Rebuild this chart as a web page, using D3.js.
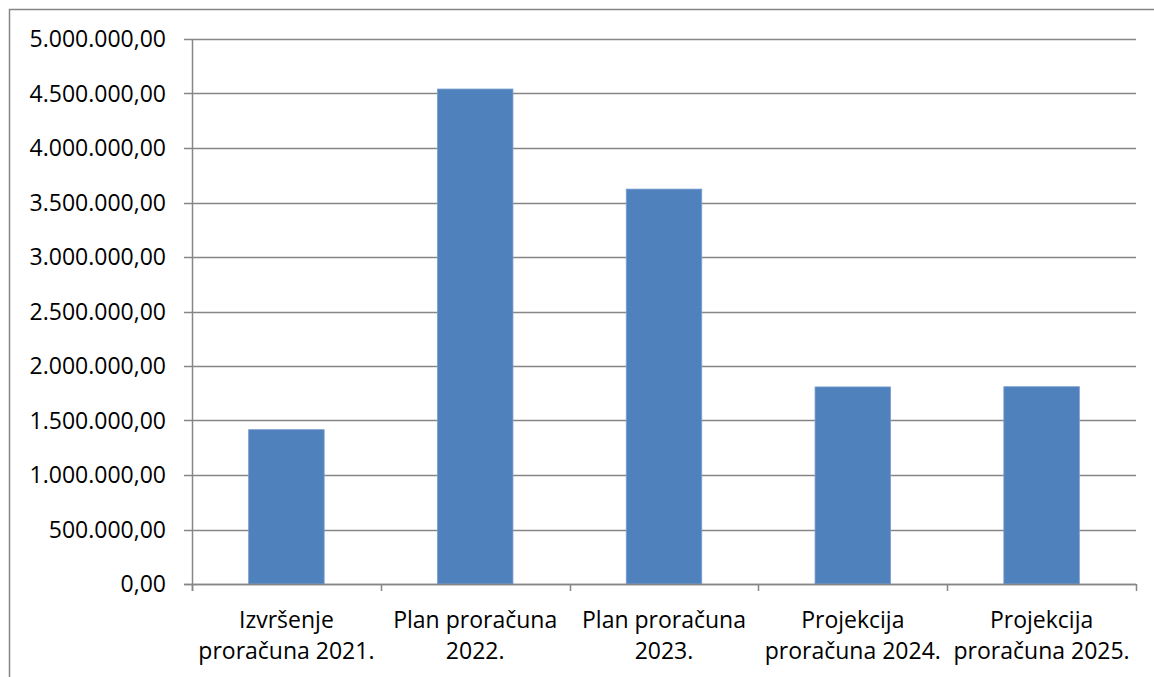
<!DOCTYPE html>
<html>
<head>
<meta charset="utf-8">
<script src="https://cdn.jsdelivr.net/npm/d3@7"></script>
<style>
  html, body { margin: 0; padding: 0; background: #fff; }
  svg { display: block; }
  text { font-family: "Open Sans", sans-serif; fill: #000; }
</style>
</head>
<body>
<svg id="chart" width="1154" height="677"></svg>
<script>
const categories = [
  ["Izvršenje", "proračuna 2021."],
  ["Plan proračuna", "2022."],
  ["Plan proračuna", "2023."],
  ["Projekcija", "proračuna 2024."],
  ["Projekcija", "proračuna 2025."]
];
const values = [1416000, 4541000, 3623000, 1808000, 1810000];
const yTicks = [0, 500000, 1000000, 1500000, 2000000, 2500000, 3000000, 3500000, 4000000, 4500000, 5000000];

const W = 1154, H = 677;
const margin = { left: 192, right: 18, top: 39, bottom: 93 };
const svg = d3.select("#chart");
const axisColor = "#868686";
const fontSize = 23;

// outer frame (cropped on right and bottom)
svg.append("rect")
  .attr("x", 9.5).attr("y", 9.5)
  .attr("width", W + 20).attr("height", H + 20)
  .attr("fill", "none").attr("stroke", axisColor).attr("stroke-width", 1.5);

const x = d3.scaleBand()
  .domain(categories.map((d, i) => i))
  .range([margin.left, W - margin.right])
  .padding(0);

const y = d3.scaleLinear()
  .domain([0, 5000000])
  .range([H - margin.bottom, margin.top]);

const fmt = v => {
  const s = d3.format(",.2f")(v);
  return s.replace(/,/g, "#").replace(/\./g, ",").replace(/#/g, ".");
};

// gridlines
svg.append("g")
  .selectAll("line")
  .data(yTicks)
  .join("line")
  .attr("x1", margin.left - 8)
  .attr("x2", W - margin.right)
  .attr("y1", d => Math.round(y(d)) + 0.5)
  .attr("y2", d => Math.round(y(d)) + 0.5)
  .attr("stroke", axisColor)
  .attr("stroke-width", 1.5);

// y axis labels
svg.append("g")
  .selectAll("text")
  .data(yTicks)
  .join("text")
  .attr("x", margin.left - 26)
  .attr("y", d => y(d))
  .attr("dy", "0.36em")
  .attr("text-anchor", "end")
  .attr("font-size", fontSize)
  .text(d => fmt(d));

// bars
const barW = x.bandwidth() * 0.4;
svg.append("g")
  .selectAll("rect")
  .data(values)
  .join("rect")
  .attr("x", (d, i) => x(i) + (x.bandwidth() - barW) / 2)
  .attr("y", d => y(d))
  .attr("width", barW)
  .attr("height", d => y(0) - y(d))
  .attr("fill", "#4F81BD")
  .attr("stroke", "#7A9FD0")
  .attr("stroke-width", 0.8);

// axes lines
svg.append("line")
  .attr("x1", margin.left + 0.5).attr("x2", margin.left + 0.5)
  .attr("y1", margin.top).attr("y2", y(0) + 7)
  .attr("stroke", axisColor).attr("stroke-width", 1.5);
svg.append("line")
  .attr("x1", margin.left - 8).attr("x2", W - margin.right)
  .attr("y1", Math.round(y(0)) + 0.5).attr("y2", Math.round(y(0)) + 0.5)
  .attr("stroke", axisColor).attr("stroke-width", 1.5);

// x ticks at category boundaries
const bounds = categories.map((d, i) => x(i)).concat([x(categories.length - 1) + x.bandwidth()]);
svg.append("g")
  .selectAll("line")
  .data(bounds)
  .join("line")
  .attr("x1", d => Math.round(d) + 0.5).attr("x2", d => Math.round(d) + 0.5)
  .attr("y1", y(0)).attr("y2", y(0) + 7)
  .attr("stroke", axisColor).attr("stroke-width", 1.5);

// category labels
const lab = svg.append("g")
  .selectAll("text")
  .data(categories)
  .join("text")
  .attr("text-anchor", "middle")
  .attr("font-size", fontSize)
  .attr("x", (d, i) => x(i) + x.bandwidth() / 2);
lab.each(function(d, i) {
  const t = d3.select(this);
  d.forEach((line, j) => {
    t.append("tspan")
      .attr("x", x(i) + x.bandwidth() / 2)
      .attr("y", 628 + j * 31)
      .text(line);
  });
});
</script>
</body>
</html>
